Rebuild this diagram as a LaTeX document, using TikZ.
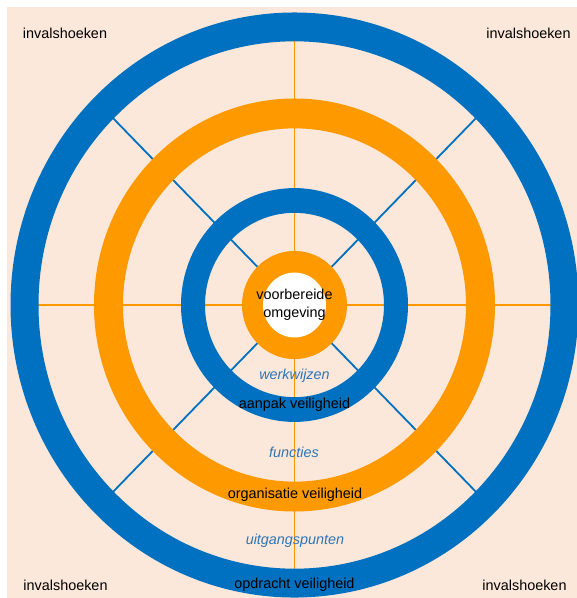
\documentclass[tikz,border=0pt]{standalone}
\usepackage{fontspec}
\setmainfont{Liberation Sans}
\definecolor{bgpeach}{HTML}{FCE8DA}
\definecolor{ringblue}{HTML}{0070C0}
\definecolor{ringorange}{HTML}{FF9900}
\definecolor{labelblue}{HTML}{2E75B6}
\begin{document}
\begin{tikzpicture}[x=1pt,y=-1pt,
  lbl/.style={inner sep=0pt, font=\fontsize{14.4}{17.5}\selectfont, text=black},
  ilbl/.style={inner sep=0pt, font=\fontsize{14.4}{17.5}\selectfont\itshape, text=labelblue},
  ospoke/.style={draw=ringorange, line width=1.8pt},
  bspoke/.style={draw=ringblue, line width=1.8pt}]
\useasboundingbox (0,0) rectangle (577,598);
\fill[bgpeach] (7,7) rectangle (577,598);
\coordinate (c) at (294.5,305);
\def\sy{1.03}
% spokes
\foreach \a in {0,90,180,270} \draw[ospoke] (c) -- ++({270*cos(\a)},{278*sin(\a)});
\foreach \a in {45,135,225,315} \draw[bspoke] (c) -- ++({270*cos(\a)},{278*sin(\a)});
% rings
\fill[ringblue, even odd rule] (c) ellipse [x radius=284, y radius=284*\sy] (c) ellipse [x radius=256, y radius=256*\sy];
\fill[ringorange, even odd rule] (c) ellipse [x radius=200.5, y radius=200.5*\sy] (c) ellipse [x radius=171.5, y radius=171.5*\sy];
\fill[ringblue, even odd rule] (c) ellipse [x radius=113.5, y radius=113.5*\sy] (c) ellipse [x radius=89.5, y radius=89.5*\sy];
\fill[ringorange] (c) ellipse [x radius=52.5, y radius=52.5*\sy];
\fill[white] (c) ellipse [x radius=31.5, y radius=31.5*\sy];
% labels
\node[lbl] (tl) at (65,33) {invalshoeken};
\node[lbl] (tr) at (528.5,33) {invalshoeken};
\node[lbl] (bl) at (65.5,585) {invalshoeken};
\node[lbl] (br) at (524.5,585) {invalshoeken};
\node[lbl, align=center] (core) at (294.5,305) {voorbereide\\omgeving};
\node[ilbl] (werk) at (294.5,376) {werkwijzen};
\node[lbl] (aanpak) at (294.5,405) {aanpak veiligheid};
\node[ilbl] (func) at (294,452) {functies};
\node[lbl] (org) at (295,494.5) {organisatie veiligheid};
\node[ilbl] (uitg) at (295,540.5) {uitgangspunten};
\node[lbl] (opdr) at (294.5,585) {opdracht veiligheid};
\end{tikzpicture}
\end{document}
